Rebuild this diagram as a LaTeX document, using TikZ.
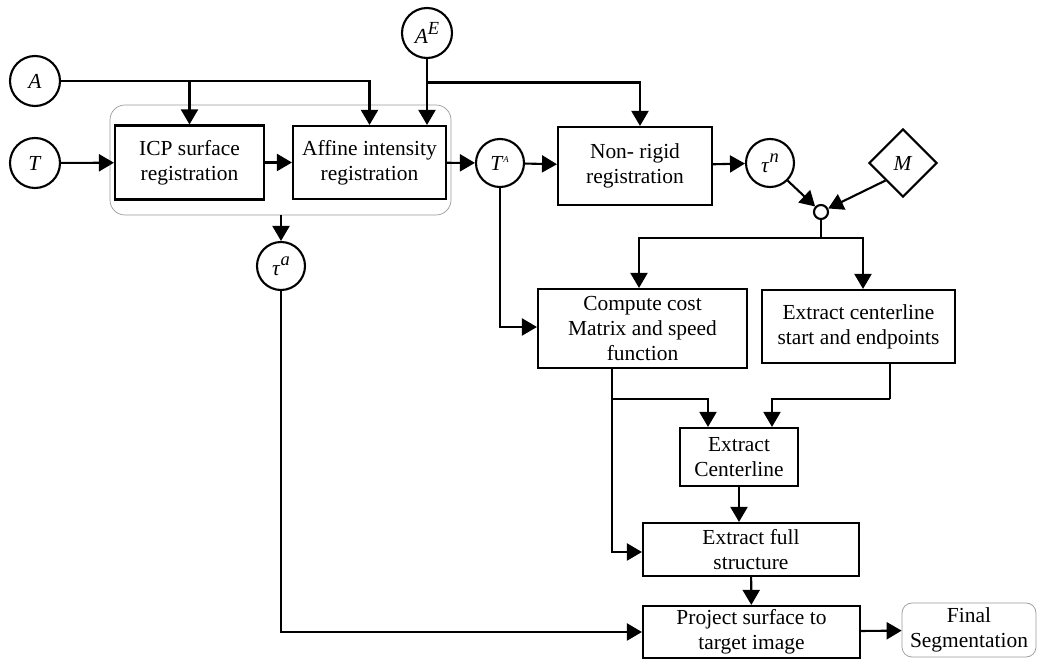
\documentclass[tikz,border=0pt]{standalone}
\usepackage{fontspec}
\setmainfont{Liberation Serif}
\usepackage{xcolor}
\usetikzlibrary{shapes.misc, positioning}
\usetikzlibrary{shapes.geometric, arrows.meta}
\definecolor{grouplinecol}{HTML}{999999}
\newcommand{\bigsup}[1]{\raisebox{0.45em}{\fontsize{10.5}{10.5}\selectfont\textit{#1}}}
\tikzstyle{process} = [rectangle, line width=1.2pt, text centered, draw=black, align=center, inner sep=1pt]
\tikzstyle{var} = [circle, line width=1.2pt, minimum size=1cm, inner sep=0pt, draw=black]
\tikzstyle{mask} = [diamond, line width=1.2pt, minimum width=1.36cm, minimum height=1.36cm, inner sep=0pt, draw=black]
\tikzstyle{arrow} = [line width=1.2pt, -{Triangle[length=0.3cm, width=0.34cm]}]
\tikzstyle{overlay} = [rectangle, rounded corners=0.3cm, draw=grouplinecol, thin]
\tikzstyle{result} = [rectangle, rounded corners=0.2cm, draw=grouplinecol, thin, align=center, inner sep=1pt]

\begin{document}
\begin{tikzpicture}[node distance=0cm, font=\fontsize{12.2}{14.2}\selectfont]
    \useasboundingbox (0,0) rectangle (20.74,-13.26);

    \node (icp) [process, minimum width=2.98cm, minimum height=1.48cm] at (3.79,-3.25) {ICP surface\\registration};
    \node (affine) [process, right of = icp, xshift=3.6cm, minimum width=3.06cm, minimum height=1.46cm] {Affine intensity\\registration};
    \node (group) [overlay, right of = icp, xshift=1.82cm, yshift=0.05cm, minimum width=6.82cm, minimum height=2.2cm] {};

    \node (T) [var, left of = icp, xshift=-3.09cm, yshift=-0.01cm] {\textit{T}};
    \node (A) [var, above of = T, yshift=1.64cm] {\textit{A}};
    \node (AE) [var, right of = affine, xshift=1.15cm, yshift=2.59cm] {\textit{A}\bigsup{E}};

    \node (TA) [var, minimum size=0.96cm, right of = affine, xshift=2.61cm, yshift=-0.01cm] {\textit{T}\textsuperscript{\textit{\tiny A}}};
    \node (nonrigid) [process, right of = TA, xshift=2.7cm, yshift=-0.06cm, minimum width=3.08cm, minimum height=1.56cm] {Non- rigid\\registration};
    \node (taun) [var, minimum size=0.96cm, right of = TA, xshift=5.4cm] {\textit{τ}\bigsup{n}};
    \node (M) [mask, right of = taun, xshift=2.66cm] {\textit{M}};
    \node (junction) [circle, line width=1.2pt, draw=black, minimum size=0.28cm, inner sep=0pt, right of = taun, xshift=1.02cm, yshift=-0.98cm] {};

    \node (taua) [var, minimum size=0.96cm] at (5.62,-5.32) {\textit{τ}\bigsup{a}};

    \node (compute) [process, right of = nonrigid, xshift=0.15cm, yshift=-3.25cm, minimum width=4.18cm, minimum height=1.58cm] {Compute cost\\Matrix and speed\\function};
    \node (extstart) [process, right of = compute, xshift=4.32cm, yshift=0.04cm, minimum width=3.86cm, minimum height=1.46cm] {Extract centerline\\start and endpoints};
    \node (extcl) [process, minimum width=2.36cm, minimum height=1.16cm] at (14.78,-9.14) {Extract\\Centerline};
    \node (extfull) [process, below of = extcl, xshift=0.24cm, yshift=-1.85cm, minimum width=4.32cm, minimum height=1.06cm] {Extract full\\structure};
    \node (project) [process, below of = extfull, xshift=0.01cm, yshift=-1.65cm, minimum width=4.34cm, minimum height=1.04cm] {Project surface to\\target image};
    \node (final) [result, right of = project, xshift=4.35cm, yshift=0.04cm, minimum width=2.68cm, minimum height=1.08cm] {Final\\Segmentation};

    % inputs to the registration group
    \draw[arrow] (T) -- (icp);
    \draw[arrow] (icp) -- (affine);
    \draw[arrow] (A) -| (icp.north);
    \draw[arrow] (A) -| (affine.north);
    \draw[arrow] (AE) -- (AE |- affine.north);
    \coordinate (aeturn) at ([yshift=-0.47cm]AE.south);
    \draw[arrow] (aeturn) -| ([xshift=0.1cm]nonrigid.north);
    \draw[arrow] (affine) -- (TA);
    \draw[arrow] (taua |- group.south) -- (taua);

    % non-rigid part
    \draw[arrow] (TA) -- (nonrigid);
    \draw[arrow] (nonrigid) -- (taun);
    \draw[arrow] (taun.south east) -- (junction);
    \draw[arrow] (M.south west) -- (junction);
    \coordinate (split) at ([yshift=-0.36cm]junction.south);
    \draw[line width=1.2pt] (junction) -- (split);
    \draw[arrow] (split) -| ([xshift=-0.07cm]compute.north);
    \draw[arrow] (split) -| ([xshift=0.09cm]extstart.north);
    \draw[arrow] (TA) |- ([yshift=0.03cm]compute.west);

    % centerline extraction
    \coordinate (cbranch) at ([xshift=-0.61cm, yshift=-0.6cm]compute.south);
    \draw[arrow] ([xshift=-0.61cm]compute.south) |- ([yshift=-0.05cm]extfull.west);
    \draw[arrow] (cbranch) -| ([xshift=-0.62cm]extcl.north);
    \coordinate (sbranch) at ([xshift=0.63cm]extstart.south |- cbranch);
    \draw[line width=1.2pt] ([xshift=0.63cm]extstart.south) -- (sbranch);
    \draw[arrow] (sbranch) -| ([xshift=0.66cm]extcl.north);
    \draw[arrow] (extcl) -- (extcl |- extfull.north);
    \draw[arrow] (extfull) -- (project);
    \draw[arrow] (taua) |- (project);
    \draw[arrow] (project) -- (final);

\end{tikzpicture}
\end{document}
